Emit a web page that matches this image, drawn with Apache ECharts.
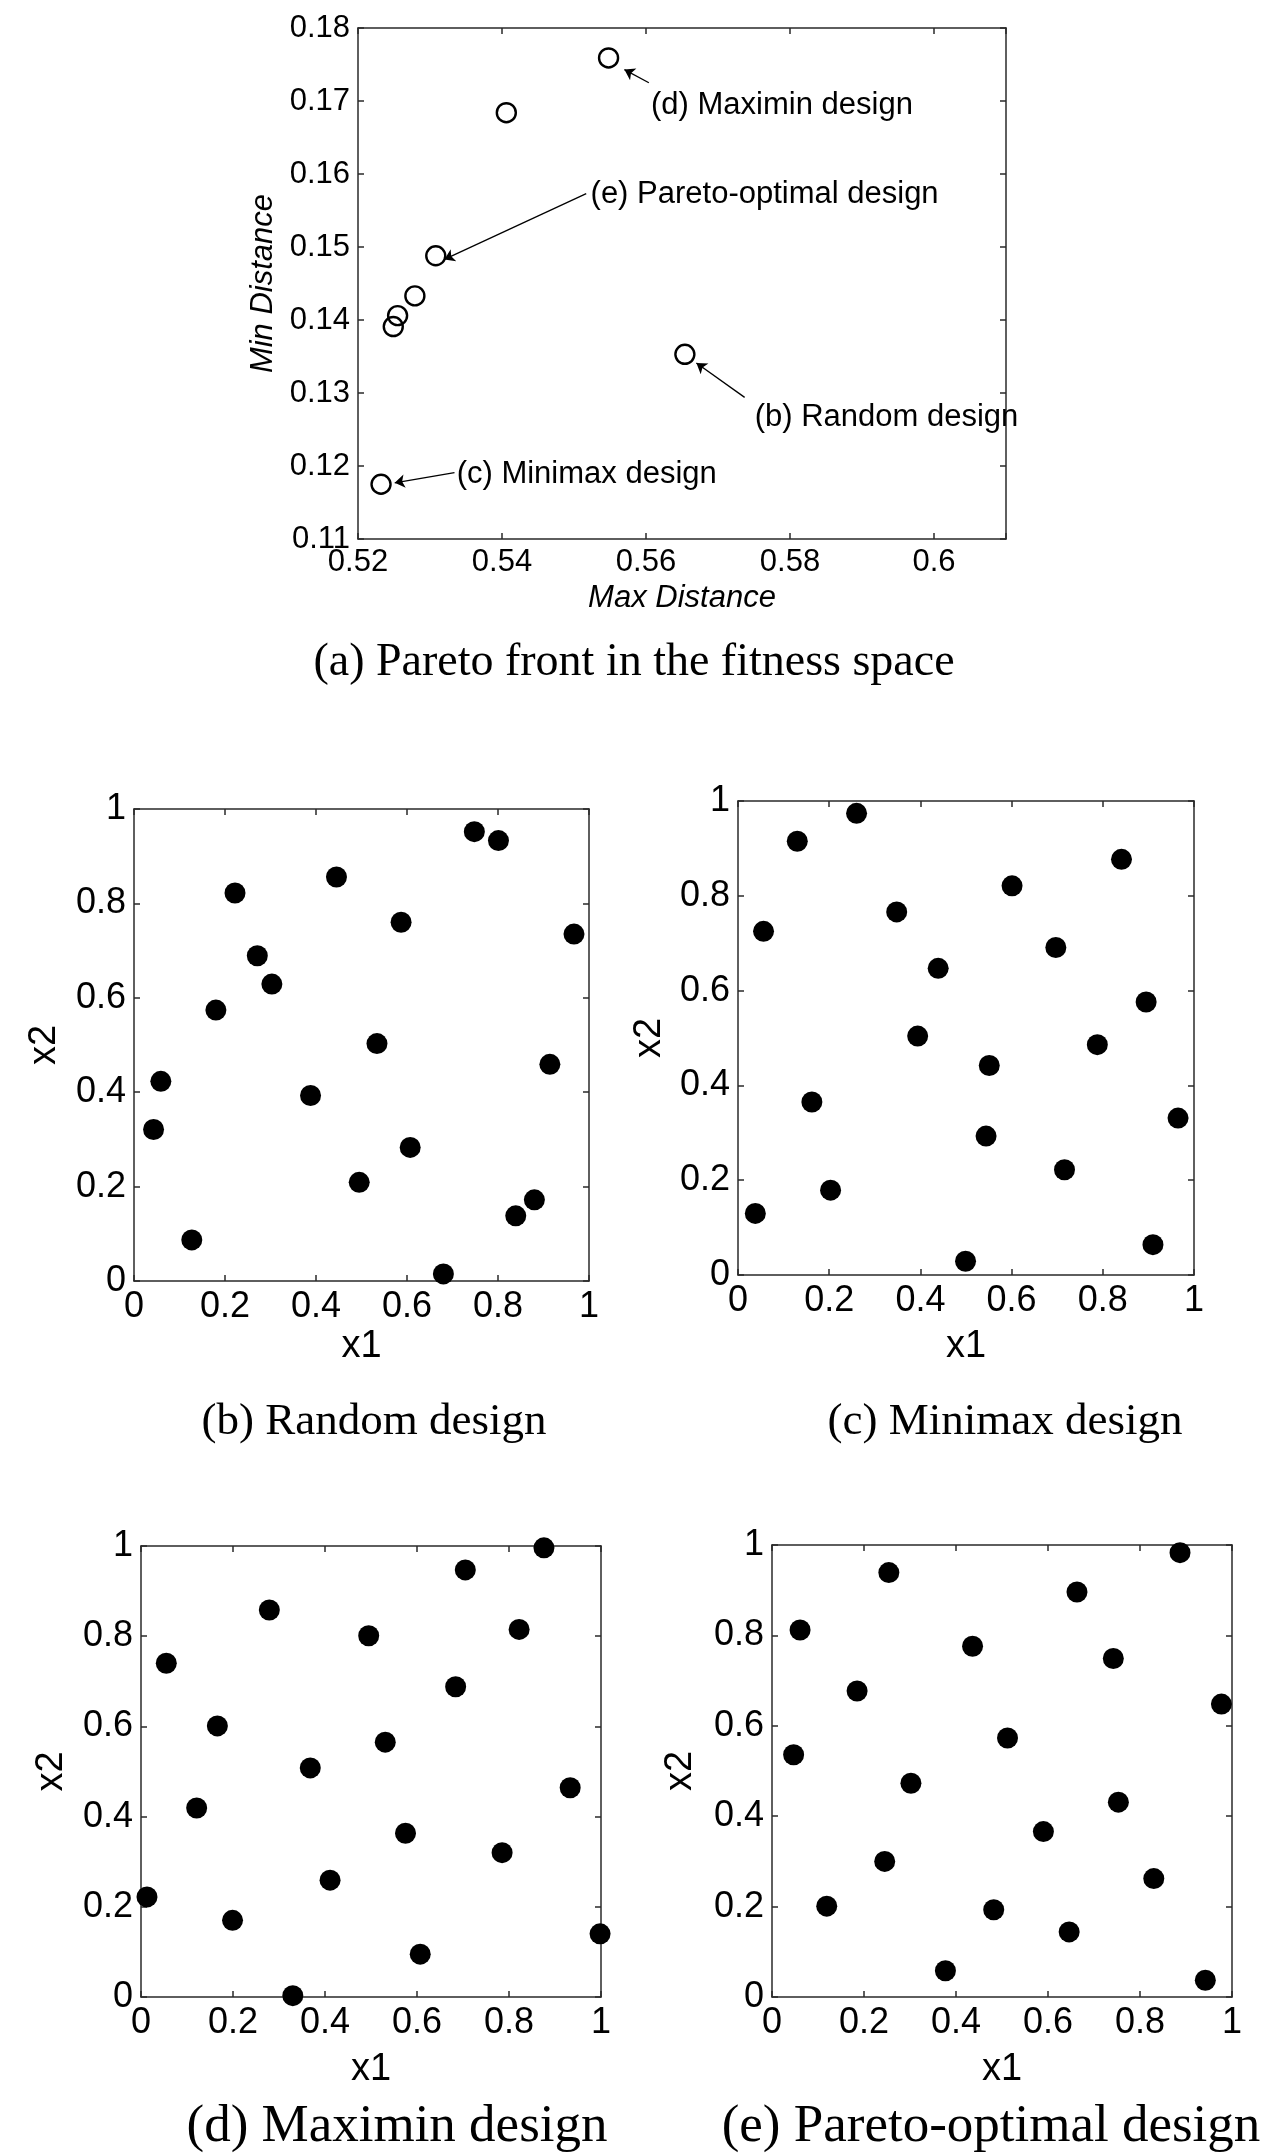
<!DOCTYPE html>
<html><head><meta charset="utf-8">
<script src="https://cdn.jsdelivr.net/npm/echarts@6/dist/echarts.min.js"></script>
<style>html,body{margin:0;padding:0;background:#fff}#c{width:1265px;height:2154px}</style>
</head><body><div id="c"></div>
<script>
// (a) Pareto front in fitness space
const paretoMaxDist = [0.5548, 0.5406, 0.5308, 0.5279, 0.5255, 0.5249, 0.5654, 0.5232];
const paretoMinDist = [0.1759, 0.1684, 0.1488, 0.1433, 0.1406, 0.1391, 0.1353, 0.1175];
// annotations (data coordinates)
const noteText = ['(d) Maximin design', '(e) Pareto-optimal design', '(b) Random design', '(c) Minimax design'];
const noteX = [0.5607, 0.5523, 0.5751, 0.5337];
const noteY = [0.1694, 0.1572, 0.1266, 0.1188];
const arrowFrom = [[0.5604, 0.1725], [0.5517, 0.1573], [0.5737, 0.1294], [0.5334, 0.1191]];
const arrowTo = [[0.5570, 0.1743], [0.5320, 0.1483], [0.5670, 0.1341], [0.5251, 0.1177]];

// (b) Random design
const randX1 = [0.748, 0.801, 0.445, 0.222, 0.587, 0.967, 0.271, 0.303, 0.180, 0.534, 0.914, 0.059, 0.388, 0.043, 0.607, 0.495, 0.880, 0.839, 0.127, 0.680];
const randX2 = [0.952, 0.933, 0.856, 0.822, 0.760, 0.735, 0.689, 0.629, 0.574, 0.503, 0.459, 0.423, 0.393, 0.321, 0.283, 0.209, 0.172, 0.138, 0.087, 0.015];
// (c) Minimax design
const minimaxX1 = [0.260, 0.130, 0.841, 0.601, 0.348, 0.056, 0.697, 0.439, 0.895, 0.394, 0.788, 0.551, 0.162, 0.965, 0.544, 0.716, 0.203, 0.038, 0.910, 0.499];
const minimaxX2 = [0.974, 0.915, 0.877, 0.821, 0.766, 0.725, 0.691, 0.647, 0.576, 0.504, 0.486, 0.442, 0.365, 0.331, 0.293, 0.222, 0.179, 0.130, 0.064, 0.029];
// (d) Maximin design
const maximinX1 = [0.876, 0.705, 0.279, 0.822, 0.495, 0.055, 0.684, 0.166, 0.531, 0.368, 0.933, 0.121, 0.575, 0.785, 0.411, 0.013, 0.199, 0.998, 0.607, 0.330];
const maximinX2 = [0.996, 0.947, 0.858, 0.815, 0.801, 0.740, 0.688, 0.601, 0.565, 0.508, 0.464, 0.419, 0.363, 0.320, 0.259, 0.222, 0.170, 0.140, 0.095, 0.003];
// (e) Pareto-optimal design
const paretoX1 = [0.887, 0.254, 0.663, 0.061, 0.436, 0.742, 0.185, 0.977, 0.512, 0.047, 0.302, 0.753, 0.590, 0.245, 0.830, 0.119, 0.482, 0.646, 0.377, 0.942];
const paretoX2 = [0.983, 0.939, 0.896, 0.812, 0.776, 0.749, 0.677, 0.648, 0.573, 0.536, 0.473, 0.431, 0.366, 0.300, 0.262, 0.201, 0.193, 0.144, 0.058, 0.037];

const captions = ['(a) Pareto front in the fitness space', '(b) Random design', '(c) Minimax design', '(d) Maximin design', '(e) Pareto-optimal design'];

const FONT = '"Liberation Sans", Arial, Helvetica, sans-serif';
const SERIF = '"Liberation Serif", "Times New Roman", serif';
const AX = '#2a2a2a';

const grids = [
  {left: 358, top: 28, width: 648, height: 511},
  {left: 134, top: 809, width: 455, height: 472},
  {left: 738, top: 801, width: 456, height: 474},
  {left: 141, top: 1546, width: 460, height: 451},
  {left: 772, top: 1545, width: 460, height: 452}
];

function fmt(v) { return String(+(+v).toFixed(4)); }

function axisBase(gi, min, max, interval) {
  return {
    type: 'value', gridIndex: gi, min: min, max: max, interval: interval,
    axisLine: {show: true, onZero: false, lineStyle: {color: AX, width: 1.5}},
    axisTick: {show: true, inside: true, length: 6, lineStyle: {color: AX, width: 1.5}},
    splitLine: {show: false}
  };
}

const xAxes = [], yAxes = [];
(function () {
  const x = axisBase(0, 0.52, 0.61, 0.02);
  x.position = 'bottom';
  x.axisLabel = {color: '#000', fontFamily: FONT, fontSize: 31, margin: 8,
    formatter: v => (Math.abs(v / 0.02 - Math.round(v / 0.02)) < 1e-6 ? fmt(v) : '')};
  x.name = 'Max Distance'; x.nameLocation = 'middle'; x.nameGap = 44;
  x.nameTextStyle = {color: '#000', fontFamily: FONT, fontSize: 31, fontStyle: 'italic'};
  xAxes.push(x);
  const xt = axisBase(0, 0.52, 0.61, 0.02); xt.position = 'top'; xt.axisLabel = {show: false};
  xAxes.push(xt);
  const y = axisBase(0, 0.11, 0.18, 0.01);
  y.position = 'left';
  y.axisLabel = {color: '#000', fontFamily: FONT, fontSize: 31, margin: 8, formatter: fmt};
  y.name = 'Min Distance'; y.nameLocation = 'middle'; y.nameGap = 78;
  y.nameTextStyle = {color: '#000', fontFamily: FONT, fontSize: 31, fontStyle: 'italic'};
  yAxes.push(y);
  const yr = axisBase(0, 0.11, 0.18, 0.01); yr.position = 'right'; yr.axisLabel = {show: false};
  yAxes.push(yr);
})();

const xNameGaps = [47, 53, 54, 54];
const yNameGaps = [70, 69, 70, 72];
for (let k = 1; k <= 4; k++) {
  const x = axisBase(k, 0, 1, 0.2);
  x.position = 'bottom';
  x.axisLabel = {color: '#000', fontFamily: FONT, fontSize: 36, margin: 8, formatter: fmt};
  x.name = 'x1'; x.nameLocation = 'middle'; x.nameGap = xNameGaps[k - 1];
  x.nameTextStyle = {color: '#000', fontFamily: FONT, fontSize: 38};
  xAxes.push(x);
  const xt = axisBase(k, 0, 1, 0.2); xt.position = 'top'; xt.axisLabel = {show: false};
  xAxes.push(xt);
  const y = axisBase(k, 0, 1, 0.2);
  y.position = 'left';
  y.axisLabel = {color: '#000', fontFamily: FONT, fontSize: 36, margin: 8, formatter: fmt};
  y.name = 'x2'; y.nameLocation = 'middle'; y.nameGap = yNameGaps[k - 1];
  y.nameTextStyle = {color: '#000', fontFamily: FONT, fontSize: 38};
  yAxes.push(y);
  const yr = axisBase(k, 0, 1, 0.2); yr.position = 'right'; yr.axisLabel = {show: false};
  yAxes.push(yr);
}

function zip(a, b) { return a.map((v, i) => [v, b[i]]); }

const series = [];
series.push({
  type: 'scatter', xAxisIndex: 0, yAxisIndex: 0,
  data: zip(paretoMaxDist, paretoMinDist),
  symbol: 'circle', symbolSize: 19,
  itemStyle: {color: 'rgba(255,255,255,0)', borderColor: '#000', borderWidth: 2.4, opacity: 1},
  z: 3
});
series.push({
  type: 'lines', coordinateSystem: 'cartesian2d', xAxisIndex: 0, yAxisIndex: 0,
  data: arrowFrom.map((f, i) => ({coords: [f, arrowTo[i]]})),
  symbol: ['none', 'arrow'], symbolSize: 10,
  lineStyle: {color: '#000', width: 1.3, opacity: 1},
  z: 4
});
series.push({
  type: 'scatter', xAxisIndex: 0, yAxisIndex: 0,
  data: noteX.map((x, i) => [x, noteY[i], noteText[i]]),
  symbolSize: 0,
  itemStyle: {opacity: 1},
  label: {show: true, position: 'right', distance: 0, formatter: p => p.value[2],
    color: '#000', opacity: 1, fontFamily: FONT, fontSize: 31},
  z: 5
});
const designs = [[randX1, randX2], [minimaxX1, minimaxX2], [maximinX1, maximinX2], [paretoX1, paretoX2]];
designs.forEach((d, k) => {
  series.push({
    type: 'scatter', xAxisIndex: 2 * (k + 1), yAxisIndex: 2 * (k + 1),
    data: zip(d[0], d[1]),
    symbol: 'circle', symbolSize: 21,
    itemStyle: {color: '#000', opacity: 1}
  });
});

const capPos = [[634, 663], [374, 1422], [1005, 1422], [397, 2127], [991, 2127]];
const capSize = [46, 45, 45, 53, 53];
const graphic = captions.map((t, i) => ({
  type: 'text', x: capPos[i][0], y: capPos[i][1],
  style: {text: t, font: capSize[i] + 'px ' + SERIF, fill: '#000', textAlign: 'center', textVerticalAlign: 'middle'}
}));

const chart = echarts.init(document.getElementById('c'), null, {renderer: 'canvas'});
chart.setOption({
  animation: false,
  backgroundColor: '#fff',
  grid: grids.map(g => Object.assign({containLabel: false}, g)),
  xAxis: xAxes,
  yAxis: yAxes,
  series: series,
  graphic: graphic
});
</script>
</body></html>
